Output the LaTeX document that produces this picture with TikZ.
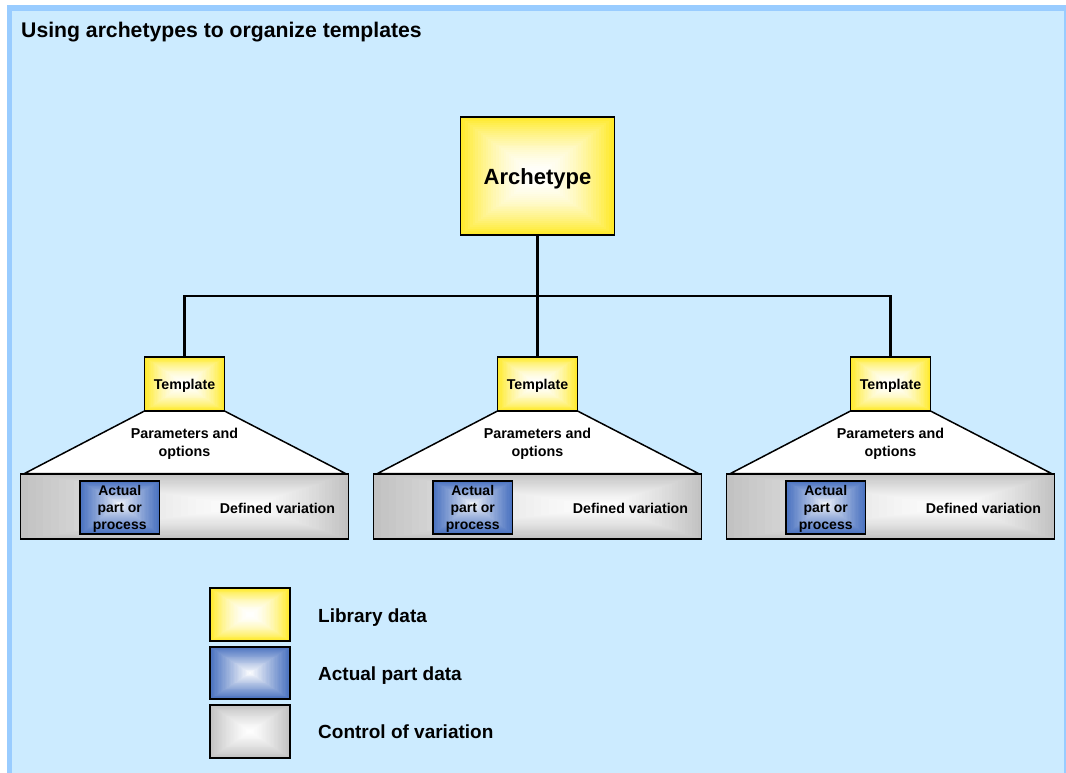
\documentclass[tikz,border=0pt]{standalone}
\usepackage{fontspec}
\setmainfont{Liberation Sans}
\definecolor{panel}{HTML}{CCEBFF}
\definecolor{band}{HTML}{99CCFF}
\definecolor{yel}{HTML}{FFEA2A}
\definecolor{blu}{HTML}{4A72C0}
\definecolor{gry}{HTML}{C2C2C2}
% x1 y1 x2 y2 cx cy colour exponent
\newcommand{\gradrect}[8]{%
 \foreach \gi in {0,...,29}{%
   \pgfmathsetmacro{\gt}{\gi/30}%
   \pgfmathsetmacro{\gp}{100*(1-\gt)^#8}%
   \fill[#7!\gp!white] ({#1+\gt*(#5-#1)},{#2+\gt*(#6-#2)}) rectangle ({#3+\gt*(#5-#3)},{#4+\gt*(#6-#4)});
 }}
\begin{document}
\begin{tikzpicture}[x=1pt,y=-1pt,
  box/.style={draw=black, line width=1.8pt, inner sep=0pt},
  conn/.style={line width=2.6pt},
  lbl/.style={font=\bfseries\fontsize{19}{22}\selectfont, anchor=base west, inner sep=0pt},
  small/.style={font=\bfseries\fontsize{14.2}{17}\selectfont, inner sep=0pt, align=center}]
\useasboundingbox (0,0) rectangle (1066,773);
\fill[white] (0,0) rectangle (1066,773);
\fill[panel] (7,5) rectangle (1066,773);
\fill[band] (7,5) rectangle (1066,11);
\fill[band] (7,5) rectangle (12,773);
\fill[band] (1063.5,5) rectangle (1066,773);
\node[anchor=base west, inner sep=0pt, font=\bfseries\fontsize{21.2}{25}\selectfont] (title) at (21,38) {Using archetypes to organize templates};
% archetype
\gradrect{460}{117}{614}{235}{537}{176}{yel}{1.8}
\node[box, minimum width=154pt, minimum height=118pt] (arch) at (537.5,176) {};
\node[anchor=base, inner sep=0pt, font=\bfseries\fontsize{22}{26}\selectfont] (archt) at (537.5,184.5) {Archetype};
% groups
\foreach \cx/\n in {184.5/1, 537.5/2, 890.5/3}{
 \begin{scope}[shift={(\cx,0)}]
  \draw[line width=1.5pt, fill=white] (-40,411) -- (40,411) -- (161,473.5) -- (-160,473.5) -- cycle;
  \node[small, font=\bfseries\fontsize{14.3}{18}\selectfont] (p\n) at (0,443.5) {Parameters and\\options};
  \gradrect{-164}{474}{164}{539}{65}{506}{gry}{1.3}
  \node[box, minimum width=328pt, minimum height=65pt] (g\n) at (0,506.5) {};
  \gradrect{-104.5}{481}{-25}{534}{-64.75}{504}{blu}{0.8}
  \node[box, minimum width=79.5pt, minimum height=53pt] (ab\n) at (-64.75,507.5) {};
  \node[small, font=\bfseries\fontsize{14}{17}\selectfont] (a\n) at (-64.75,508.5) {Actual\\part or\\process};
  \node[small, anchor=base] (d\n) at (93,513) {Defined variation};
  \gradrect{-40}{357}{40}{411}{0}{384}{yel}{1.8}
  \node[box, minimum width=80pt, minimum height=54pt] (t\n) at (0,384) {};
  \node[small, anchor=base] (tt\n) at (0,389) {Template};
 \end{scope}
}
% connectors
\coordinate (bus) at (537.5,296);
\draw[conn] (arch.south) -- (t2.north);
\draw[conn] (t1.north) |- (bus) -| (t3.north);
% legend
\gradrect{210}{588}{290}{641}{250}{614.5}{yel}{1.8}
\node[box, minimum width=80pt, minimum height=53pt] (ly) at (250,614.5) {};
\gradrect{210}{647}{290}{699}{250}{673}{blu}{1.0}
\node[box, minimum width=80pt, minimum height=52pt] (lb) at (250,673) {};
\gradrect{210}{705}{290}{758}{250}{731.5}{gry}{1.3}
\node[box, minimum width=80pt, minimum height=53pt] (lg) at (250,731.5) {};
\node[lbl] (ty) at (318,622) {Library data};
\node[lbl] (tb) at (318,680) {Actual part data};
\node[lbl] (tg) at (318,738) {Control of variation};
\end{tikzpicture}
\end{document}
